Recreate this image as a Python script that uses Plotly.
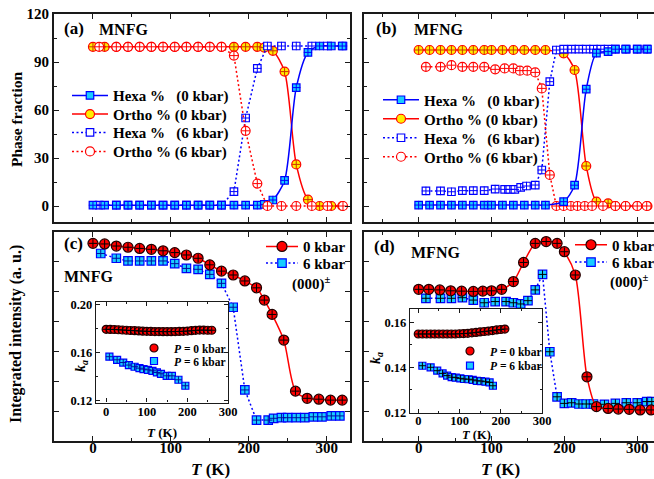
import plotly.graph_objects as go

W, H = 654, 479
FONT = "Liberation Serif"

# ---------------- DATA ----------------
# Panel (a) MNFG phase fractions
T_a0 = [0, 15, 30, 45, 60, 75, 90, 105, 120, 135, 150, 165, 181, 196, 211, 220, 231, 246, 261, 276, 291, 306, 320]
hexa_a0 = [0.5] * 15 + [1.0, 3.75, 16, 74, 96, 100, 100, 100]
ortho_a0 = [99.5] * 15 + [99, 97, 84, 26, 4, 0, 0, 0]
T_a6 = [8, 30, 45, 60, 75, 90, 105, 120, 135, 150, 165, 181, 196, 211, 224, 242, 261, 281, 301, 321]
hexa_a6 = [0.5] * 11 + [9, 55, 86, 100, 100, 100, 100, 100, 100]
ortho_a6 = [99.5] * 11 + [94, 47, 14, 0, 0, 0, 0, 0, 0]

# Panel (b) MFNG phase fractions
T_b0 = [0, 15, 30, 45, 60, 75, 90, 100, 115, 130, 145, 160, 174, 199, 214, 230, 244, 260, 270, 284, 300, 314]
hexa_b0 = [0.6] * 13 + [2.7, 13, 73, 95.5, 96.5, 98, 98, 98, 98]
ortho_b0 = [97.5] * 13 + [95.4, 85, 25, 2.7, 1.7, 0, 0, 0, 0]
T_b6h = [10, 30, 45, 60, 75, 90, 105, 118, 125, 132, 140, 148, 160, 169, 180, 189, 199, 210, 220, 230, 240, 250, 260, 270, 285, 300, 313]
hexa_b6 = [9.4, 9.4, 8.9, 9.6, 9.6, 9.6, 10.6, 10.4, 10.4, 10.4, 11.7, 12.5, 13.1, 22.5, 77.7, 97.5,
           98, 98, 98, 98, 98, 98, 98, 98, 98, 98, 98]
T_b6o = [10, 30, 45, 60, 75, 90, 105, 118, 130, 139, 149, 160, 169, 180, 189, 199, 209, 218, 228, 238, 253, 270, 284, 300, 313]
ortho_b6 = [87, 87, 88, 87, 87, 87, 85.4, 86, 86, 84.6, 84.6, 83.5, 73.5, 19.4, 0,
            0, 0, 0, 0, 0, 0, 0, 0, 0, 0]

# Panel (c) MNFG integrated intensity (a. u.)
T_c0 = [0, 15, 30, 45, 60, 75, 90, 105, 120, 135, 150, 165, 180, 195, 210, 220, 230, 245, 260, 275, 290, 305, 320]
I_c0 = [6.62, 6.60, 6.53, 6.49, 6.45, 6.42, 6.37, 6.31, 6.23, 6.12, 5.90, 5.69, 5.56, 5.36, 5.13, 4.72,
        4.24, 3.38, 1.67, 1.43, 1.40, 1.37, 1.37]
T_c6 = [10, 30, 45, 60, 75, 90, 105, 120, 135, 150, 165, 180, 195, 210, 225, 232, 242, 250, 261, 272, 283, 294, 306, 317]
I_c6 = [6.28, 6.12, 6.03, 6.03, 6.03, 6.03, 5.94, 5.78, 5.75, 5.58, 5.28, 4.48, 1.71, 0.70, 0.70, 0.76,
        0.78, 0.78, 0.78, 0.78, 0.81, 0.81, 0.84, 0.84]

# Panel (d) MFNG integrated intensity (a. u.)
T_d0 = [0, 14, 29, 44, 59, 75, 88, 100, 114, 130, 144, 160, 175, 190, 200, 215, 231, 244, 260, 274, 289, 304, 319]
I_d0 = [5.08, 5.08, 5.06, 5.03, 5.02, 5.01, 5.02, 5.03, 5.08, 5.34, 5.98, 6.62, 6.68, 6.62, 6.34, 5.56,
        2.15, 1.15, 1.09, 1.07, 1.06, 1.04, 1.04]
T_d6 = [10, 30, 45, 60, 75, 90, 105, 120, 130, 140, 150, 160, 170, 180, 190, 200, 210, 220, 230, 240,
        255, 270, 285, 300, 313, 320]
I_d6 = [4.78, 4.78, 4.78, 4.80, 4.72, 4.63, 4.67, 4.67, 4.63, 4.59, 4.70, 5.06, 5.58, 2.99, 1.48, 1.26,
        1.28, 1.24, 1.24, 1.24, 1.23, 1.26, 1.28, 1.28, 1.32, 1.32]

# Inset (c): k_a of MNFG
T_ic0 = [0, 10, 20, 30, 40, 50, 60, 70, 80, 90, 100, 110, 120, 130, 140, 150, 160, 170, 180, 190, 200,
         210, 220, 230, 240, 250, 260]
k_ic0 = [0.1797, 0.1796, 0.1795, 0.1793, 0.1791, 0.1789, 0.1787, 0.1785, 0.1783, 0.1781, 0.1780, 0.1779,
         0.1778, 0.1778, 0.1777, 0.1777, 0.1777, 0.1778, 0.1779, 0.1780, 0.1782, 0.1785, 0.1788, 0.1790,
         0.1790, 0.1789, 0.1789]
T_ic6 = [8, 27, 42, 56, 70, 82, 92, 103, 114, 125, 135, 149, 162, 178, 195]
k_ic6 = [0.1568, 0.1542, 0.1519, 0.1498, 0.1484, 0.1472, 0.1464, 0.1458, 0.1450, 0.1436, 0.1425, 0.1408,
         0.1408, 0.1375, 0.1325]

# Inset (d): k_a of MFNG
T_id0 = [0, 10, 20, 30, 40, 50, 60, 70, 80, 90, 100, 110, 120, 130, 140, 150, 160, 170, 180, 190, 200, 210]
k_id0 = [0.1548] * 10 + [0.1549, 0.1550, 0.1551, 0.1553, 0.1555, 0.1557, 0.1559, 0.1561, 0.1563, 0.1566,
                         0.1568, 0.1570]
T_id6 = [10, 30, 46, 59, 70, 81, 91, 102, 111, 122, 132, 142, 152, 163, 173, 181]
k_id6 = [0.1407, 0.1400, 0.1385, 0.1373, 0.1363, 0.1356, 0.1354, 0.1351, 0.1348, 0.1347, 0.1344, 0.1340,
         0.1339, 0.1336, 0.1333, 0.1318]

# ---------------- STYLE ----------------
BLUE = '#0000ff'
RED = '#ff0000'
CYAN = '#19ccff'
YEL = '#ffee00'
FR = '#1a1a1a'
DOT = '2px,2.5px'


def xd(a, b):
    return [a / W, b / W]


def yd(top, bot):
    return [(H - bot) / H, (H - top) / H]


fig = go.Figure()
legends = {}
_count = [0]


def new_legend(x, y, size=15, itemwidth=36):
    _count[0] += 1
    n = _count[0]
    name = 'legend' if n == 1 else 'legend%d' % n
    legends[name] = dict(x=x / W, y=(H - y) / H, xanchor='left', yanchor='middle',
                         bgcolor='rgba(0,0,0,0)', borderwidth=0, itemwidth=itemwidth,
                         font=dict(family=FONT, size=size, color='black', weight='bold'))
    return name


def add(x, y, ax, name, leg, mode, msym, msize, mfill, mline, lcolor=None, dash='solid',
        shape='linear', ccolor=None, cross=6):
    tr = dict(x=x, y=y, xaxis='x' + ax, yaxis='y' + ax, mode=mode, name=name,
              marker=dict(symbol=msym, size=msize, color=mfill, line=dict(color=mline, width=1.2)),
              hoverinfo='skip', cliponaxis=True)
    if 'lines' in mode:
        tr['line'] = dict(color=lcolor, width=1.5, dash=dash, shape=shape, smoothing=0.75)
    if leg is None:
        tr['showlegend'] = False
    else:
        tr['legend'] = leg
        tr['showlegend'] = True
    fig.add_trace(go.Scatter(**tr))
    # error-bar crosses drawn on top of each point
    fig.add_trace(go.Scatter(x=x, y=y, xaxis='x' + ax, yaxis='y' + ax, mode='markers', showlegend=False,
                             hoverinfo='skip',
                             marker=dict(symbol='cross-thin', size=cross,
                                         line=dict(color=ccolor or mline, width=1))))


# ---- Panel (a) ----
legA = [new_legend(67, 95.7), new_legend(67, 114.3), new_legend(67, 132.7), new_legend(67, 151.7)]
add(T_a0, ortho_a0, '', 'Ortho % (0 kbar)', legA[1], 'lines+markers', 'circle', 9, YEL, RED, RED,
    shape='spline', ccolor='#cc3300')
add(T_a6, hexa_a6, '', 'Hexa %\u00a0\u00a0\u00a0(6 kbar)', legA[2], 'lines+markers', 'square', 7.5, 'white', BLUE,
    BLUE, dash=DOT)
add(T_a0, hexa_a0, '', 'Hexa %\u00a0\u00a0\u00a0(0 kbar)', legA[0], 'lines+markers', 'square', 7.5, CYAN, BLUE,
    BLUE, shape='spline')
add(T_a6, ortho_a6, '', 'Ortho % (6 kbar)', legA[3], 'lines+markers', 'circle', 9, 'white', RED, RED,
    dash=DOT)

# ---- Panel (b) ----
legB = [new_legend(378, 100), new_legend(378, 119), new_legend(378, 138), new_legend(378, 157)]
add(T_b0, ortho_b0, '2', 'Ortho % (0 kbar)', legB[1], 'lines+markers', 'circle', 9, YEL, RED, RED,
    shape='spline', ccolor='#cc3300')
add(T_b6h, hexa_b6, '2', 'Hexa %\u00a0\u00a0\u00a0(6 kbar)', legB[2], 'lines+markers', 'square', 7.5, 'white',
    BLUE, BLUE, dash=DOT)
add(T_b6o, ortho_b6, '2', 'Ortho % (6 kbar)', legB[3], 'lines+markers', 'circle', 9, 'white', RED, RED,
    dash=DOT)
add(T_b0, hexa_b0, '2', 'Hexa %\u00a0\u00a0\u00a0(0 kbar)', legB[0], 'lines+markers', 'square', 7.5, CYAN,
    BLUE, BLUE, shape='spline')

# ---- Panel (c) ----
legC = [new_legend(261, 246.7, itemwidth=32), new_legend(261, 263.3, itemwidth=32)]
add(T_c6, I_c6, '3', '6 kbar', legC[1], 'lines+markers', 'square', 8.5, CYAN, BLUE, BLUE, dash=DOT,
    ccolor='#0010a0')
add(T_c0, I_c0, '3', '0 kbar', legC[0], 'lines+markers', 'circle', 10, RED, '#200000', RED,
    shape='spline', ccolor='black')

# ---- Panel (d) ----
legD = [new_legend(570, 245, itemwidth=32), new_legend(570, 262.3, itemwidth=32)]
add(T_d6, I_d6, '4', '6 kbar', legD[1], 'lines+markers', 'square', 8.5, CYAN, BLUE, BLUE, dash=DOT,
    ccolor='black')
add(T_d0, I_d0, '4', '0 kbar', legD[0], 'lines+markers', 'circle', 10, RED, '#200000', RED,
    shape='spline', ccolor='black')

# ---- Inset (c) ----
legIC = [new_legend(134, 348, size=11.5, itemwidth=30), new_legend(134, 361, size=11.5, itemwidth=30)]
add(T_ic0, k_ic0, '5', '<i>P</i> = 0 kbar', legIC[0], 'markers', 'circle', 8, RED, '#200000',
    ccolor='black', cross=5)
add(T_ic6, k_ic6, '5', '<i>P</i> = 6 kbar', legIC[1], 'markers', 'square', 7, CYAN, BLUE,
    ccolor='#0010a0', cross=5)

# ---- Inset (d) ----
legID = [new_legend(450, 351, size=11.5, itemwidth=30), new_legend(450, 365.7, size=11.5, itemwidth=30)]
add(T_id0, k_id0, '6', '<i>P</i> = 0 kbar', legID[0], 'markers', 'circle', 8, RED, '#200000',
    ccolor='black', cross=5)
add(T_id6, k_id6, '6', '<i>P</i> = 6 kbar', legID[1], 'markers', 'square', 7, CYAN, BLUE,
    ccolor='black', cross=5)


# ---------------- AXES ----------------
def axis(domain, anchor, rng, dtick, minor, labels, mirror, lw=2, size=15, tl=5, fmt=None, standoff=None):
    d = dict(domain=domain, anchor=anchor, range=rng, dtick=dtick, tick0=0, showgrid=False, zeroline=False,
             showline=True, linecolor=FR, linewidth=lw, mirror=mirror, ticks='inside', ticklen=tl,
             tickwidth=1.3, tickcolor=FR, showticklabels=labels,
             tickfont=dict(family=FONT, size=size, color='black', weight='bold'))
    if minor:
        d['minor'] = dict(dtick=minor, ticks='inside', ticklen=max(2, tl - 2), tickwidth=1.1, tickcolor=FR,
                          showgrid=False)
    if fmt:
        d['tickformat'] = fmt
    if standoff is not None:
        d['ticklabelstandoff'] = standoff
    return d


layout_axes = dict(
    xaxis=axis(xd(54, 350), 'y', [-50, 330], 100, 50, False, 'allticks'),
    yaxis=axis(yd(14, 222), 'x', [-10, 120], 30, 15, True, 'allticks'),
    xaxis2=axis(xd(364, 654), 'y2', [-75, 323], 100, 50, False, 'allticks'),
    yaxis2=axis(yd(14, 222), 'x2', [-10, 120], 30, 15, False, False),
    xaxis3=axis(xd(54, 350), 'y3', [-50, 330], 100, 50, True, 'allticks', standoff=-8),
    yaxis3=axis(yd(232, 441), 'x3', [0, 7], 1, None, False, 'allticks'),
    xaxis4=axis(xd(364, 654), 'y4', [-75, 323], 100, 50, True, 'allticks', standoff=-8),
    yaxis4=axis(yd(232, 441), 'x4', [0, 7], 1, None, False, False),
    xaxis5=axis(xd(96, 228), 'y5', [-25, 300], 100, 50, True, 'allticks', lw=1.4, size=12.5, tl=4,
                standoff=-3),
    yaxis5=axis(yd(302, 402.5), 'x5', [0.1185, 0.2025], 0.04, 0.02, True, 'allticks', lw=1.4, size=12.5,
                tl=4, fmt='.2f'),
    xaxis6=axis(xd(410, 542), 'y6', [-20, 300], 100, 50, True, 'allticks', lw=1.4, size=12.5, tl=4,
                standoff=-4),
    yaxis6=axis(yd(309, 413), 'x6', [0.1197, 0.1659], 0.02, 0.01, True, 'allticks', lw=1.4, size=12.5,
                tl=4, fmt='.2f'),
)
layout_axes['yaxis5']['tick0'] = 0.12
layout_axes['yaxis6']['tick0'] = 0.12


# ---------------- ANNOTATIONS ----------------
def ann(text, x, y, size=15, xanchor='left', angle=0):
    return dict(text=text, x=x / W, y=(H - y) / H, xref='paper', yref='paper', showarrow=False,
                xanchor=xanchor, yanchor='middle', textangle=angle,
                font=dict(family=FONT, size=size, color='black', weight='bold'))


annotations = [
    ann('(a)', 62, 29, 17), ann('MNFG', 97, 29.5, 16),
    ann('(b)', 374, 29, 17), ann('MFNG', 412, 29.5, 16),
    ann('(c)', 62, 244, 17), ann('MNFG', 62, 276, 16),
    ann('(d)', 372, 246, 17), ann('MFNG', 409, 252, 16),
    ann('(000)<sup>±</sup>', 333, 284, 15, 'right'),
    ann('(000)<sup>±</sup>', 651, 281, 15, 'right'),
    ann('Phase fraction', 16, 119, 15.5, 'center', -90),
    ann('Integrated intensity (a. u.)', 16, 334, 16, 'center', -90),
    ann('<i>T</i> (K)', 210, 469, 17, 'center'),
    ann('<i>T</i> (K)', 500, 469, 17, 'center'),
    ann('<i>T</i> (K)', 162, 432, 13, 'center'),
    ann('<i>T</i> (K)', 476, 435, 12.5, 'center'),
    ann('<i>k</i><sub><i>a</i></sub>', 81, 366, 14, 'center', -90),
    ann('<i>k</i><sub><i>a</i></sub>', 376, 358, 14, 'center', -90),
]

fig.update_layout(
    width=W, height=H,
    margin=dict(l=0, r=0, t=0, b=0, pad=0, autoexpand=False),
    paper_bgcolor='white', plot_bgcolor='white',
    font=dict(family=FONT, size=15, color='black'),
    annotations=annotations,
    **layout_axes,
    **legends,
)

fig.write_html("out.html", config={'displayModeBar': False},
               post_script="document.body.style.margin='0';document.body.style.padding='0';")
